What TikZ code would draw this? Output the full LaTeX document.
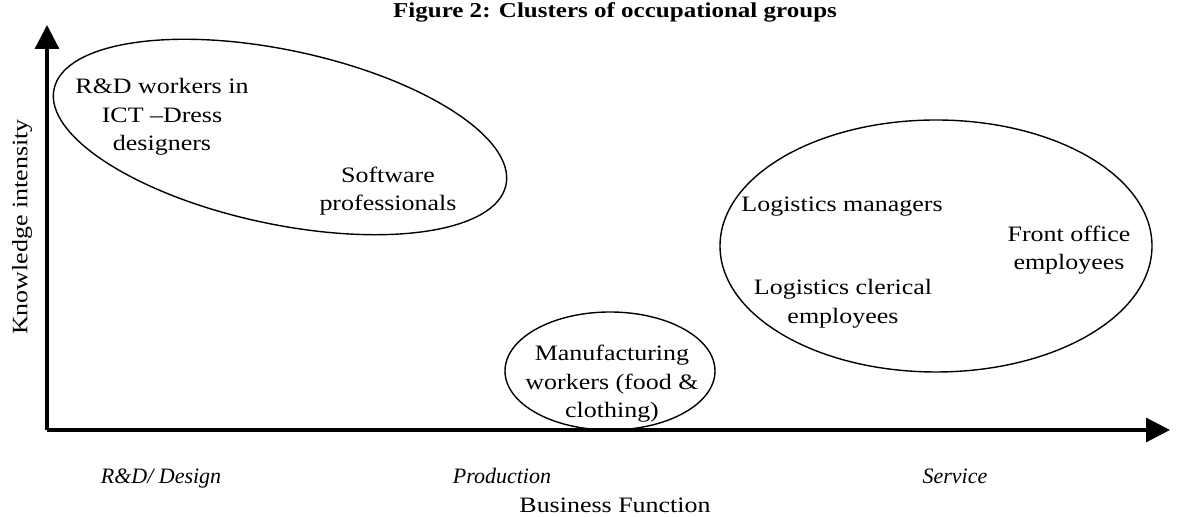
\documentclass[tikz,border=0pt]{standalone}
\usepackage{fontspec}
\setmainfont{Liberation Serif}[FakeStretch=1.18]
\newfontfamily\funcfont{Liberation Serif}
\usetikzlibrary{arrows.meta}

\tikzset{
  txt/.style={align=center, font=\fontsize{11}{14.3}\selectfont, inner sep=0pt},
  func/.style={font=\funcfont\fontsize{11}{14}\selectfont\itshape, inner sep=0pt, anchor=base},
  axis/.style={line width=1.6pt, -{Triangle[width=12pt,length=12pt]}},
  cluster/.style={line width=0.7pt}
}

\begin{document}
\begin{tikzpicture}[x=0.5pt, y=0.5pt]
  \useasboundingbox (0,0) rectangle (1179,517);

  % axes
  \coordinate (O) at (47,87);
  \coordinate (ytip) at (47,492);
  \coordinate (xtip) at (1170,87);
  \draw[axis] (O) -- (ytip);
  \draw[axis] (O) -- (xtip);

  \node[font=\fontsize{10.6}{14}\selectfont\bfseries, inner sep=0pt] (title) at (615,505) {Figure 2: Clusters of occupational groups};
  \node[txt, rotate=90] (ylab) at (22,290) {Knowledge intensity};
  \node[txt] (xlab) at (615,12) {Business Function};
  \node[func] (design) at (161,33) {R\&D/ Design};
  \node[func] (prod) at (502,33) {Production};
  \node[func] (serv) at (955,33) {Service};

  % clusters
  \draw[cluster, rotate around={-12:(280,380)}] (280,380) ellipse [x radius=231, y radius=87];
  \draw[cluster] (610,146) ellipse [x radius=105, y radius=59];
  \draw[cluster] (936,271) ellipse [x radius=216, y radius=126];

  \node[txt] (rd) at (162,400) {R\&D workers in\\ICT --Dress\\designers};
  \node[txt] (soft) at (388,326) {Software\\professionals};
  \node[txt] (manu) at (612,133) {Manufacturing\\workers (food \&\\clothing)};
  \node[txt] (logm) at (842,310) {Logistics managers};
  \node[txt] (front) at (1069,267) {Front office\\employees};
  \node[txt] (logc) at (843,213) {Logistics clerical\\employees};
\end{tikzpicture}
\end{document}
